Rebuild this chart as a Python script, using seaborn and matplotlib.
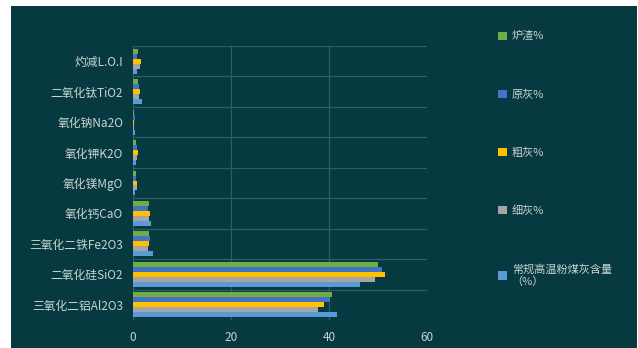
import matplotlib
matplotlib.use("Agg")
import matplotlib.pyplot as plt
import seaborn as sns
import pandas as pd
import numpy as np

categories = ["灼减L.O.I", "二氧化钛TiO2", "氧化钠Na2O", "氧化钾K2O", "氧化镁MgO",
              "氧化钙CaO", "三氧化二铁Fe2O3", "二氧化硅SiO2", "三氧化二铝Al2O3"]
series = ["炉渣%", "原灰%", "粗灰%", "细灰%", "常规高温粉煤灰含量\n（%）"]
slag = [1.0, 1.0, 0.3, 0.7, 0.6, 3.2, 3.3, 50.0, 40.6]
raw_ash = [0.8, 1.2, 0.4, 0.8, 0.7, 3.0, 3.5, 50.8, 40.2]
coarse_ash = [1.6, 1.4, 0.3, 1.0, 0.9, 3.4, 3.2, 51.4, 38.9]
fine_ash = [1.4, 1.3, 0.3, 0.9, 0.8, 3.2, 3.0, 49.4, 37.8]
typical = [0.9, 1.8, 0.5, 0.6, 0.5, 3.7, 4.0, 46.3, 41.7]
x_ticks = [0, 20, 40, 60]

colors = ["#70ad47", "#4472c4", "#ffc000", "#a5a5a5", "#5b9bd5"]
bg = "#063a40"
txt = "#c9d3d3"
grid = "#2d5e62"

rows = []
for s, vals in zip(series, [slag, raw_ash, coarse_ash, fine_ash, typical]):
    for c, v in zip(categories, vals):
        rows.append({"cat": c, "series": s, "value": v})
df = pd.DataFrame(rows)

sns.set_theme(style="white")
plt.rcParams["font.family"] = ["Noto Sans CJK SC", "DejaVu Sans"]

fig = plt.figure(figsize=(6.38, 3.48), dpi=100)
fig.patch.set_facecolor("white")
# dark background panel
fig.add_artist(plt.Rectangle((11 / 638, 0), 1 - 11 / 638 - 1 / 638, 1 - 6 / 348,
                             transform=fig.transFigure, facecolor=bg, edgecolor="none", zorder=-10))
ax = fig.add_axes([133 / 638, 1 - 320 / 348, (427 - 133) / 638, (320 - 46) / 348])
ax.set_facecolor(bg)

sns.barplot(data=df, y="cat", x="value", hue="series", order=categories, hue_order=series,
            palette=colors, orient="h", width=0.82, ax=ax, saturation=1, edgecolor="none",
            legend=True)

ax.set_xlim(0, 60)
ax.set_xticks(x_ticks)
ax.set_xticklabels([str(t) for t in x_ticks], color=txt, fontsize=8.5)
ax.set_ylim(len(categories) - 0.5, -0.5)
ax.set_yticks(range(len(categories)))
ax.set_yticklabels(categories, color=txt, fontsize=8.5)
ax.set_yticks(np.arange(-0.5, len(categories), 1), minor=True)
ax.tick_params(axis="both", which="both", length=0)
ax.tick_params(axis="y", pad=7)
ax.tick_params(axis="x", pad=8)
ax.set_xlabel("")
ax.set_ylabel("")
ax.grid(False)
ax.xaxis.grid(True, color=grid, linewidth=0.9)
ax.yaxis.grid(True, which="minor", color=grid, linewidth=0.9)
ax.set_axisbelow(True)
for sp in ax.spines.values():
    sp.set_visible(False)
ax.axvline(0, color=grid, linewidth=0.9, zorder=0)

handles, labels = ax.get_legend_handles_labels()
ax.legend_.remove()
leg = fig.legend(handles, labels, loc="upper left", bbox_to_anchor=(494 / 638, 1 - 27 / 348),
                 frameon=False, fontsize=8, labelspacing=4.3, handlelength=0.75,
                 handleheight=0.75, handletextpad=0.45, borderaxespad=0)
for t in leg.get_texts():
    t.set_color(txt)

fig.savefig("out.png", dpi=100, facecolor=fig.get_facecolor())
